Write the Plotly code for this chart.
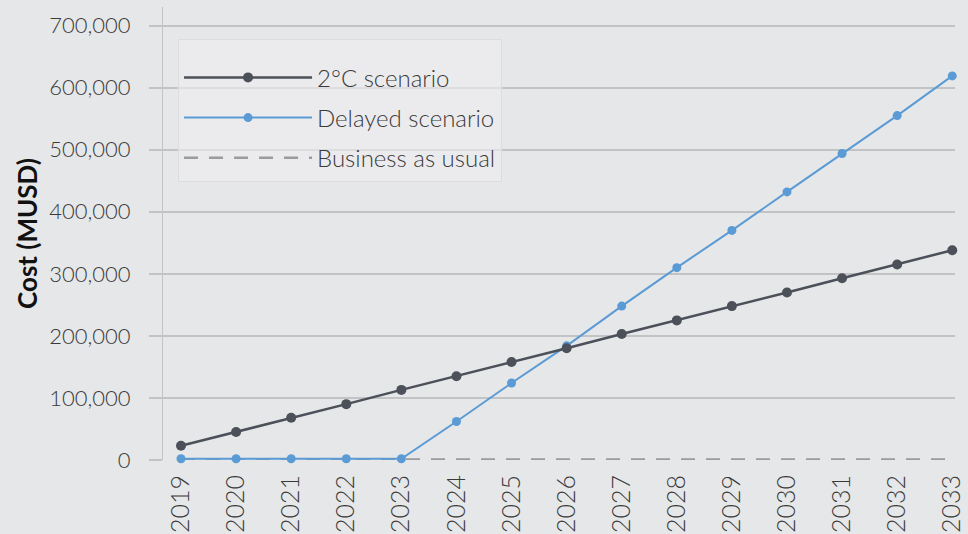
import plotly.graph_objects as go

years = list(range(2019, 2034))
year_labels = [str(y) for y in years]
two_degree = [23000, 45000, 68000, 90000, 113000, 135000, 158000, 180000,
              203000, 225000, 248000, 270000, 293000, 315000, 338000]
delayed = [2000, 2000, 2000, 2000, 2000, 62000, 124000, 184000,
           248000, 310000, 370000, 432000, 494000, 555000, 619000]
business_as_usual = [1000] * 15
y_ticks = [0, 100000, 200000, 300000, 400000, 500000, 600000, 700000]
y_tick_labels = ["0", "100,000", "200,000", "300,000", "400,000", "500,000", "600,000", "700,000"]

FONT = "Lato"
GRID = "#c2c3c5"
fig = go.Figure()

fig.add_trace(go.Scatter(
    x=years, y=business_as_usual, name="Business as usual", mode="lines",
    line=dict(color="#9a9b9d", width=2.5, dash="14px,11px"), legendrank=3,
    legendgroup="c", cliponaxis=False))
fig.add_trace(go.Scatter(
    x=years, y=delayed, name="Delayed scenario", mode="lines+markers",
    line=dict(color="#5b9bd5", width=2), marker=dict(color="#5b9bd5", size=9),
    legendrank=2, legendgroup="b", cliponaxis=False))
fig.add_trace(go.Scatter(
    x=years, y=two_degree, name="2°C scenario", mode="lines+markers",
    line=dict(color="#4b5059", width=2.5), marker=dict(color="#4b5059", size=10),
    legendrank=1, legendgroup="a", cliponaxis=False))

fig.update_layout(
    width=968, height=534,
    margin=dict(l=163, r=13, t=7, b=74),
    paper_bgcolor="#e6e7e9", plot_bgcolor="#e6e7e9",
    font=dict(family=FONT, color="#3a3a3a", size=20),
    showlegend=True,
    legend=dict(
        x=0.019, y=0.93, xanchor="left", yanchor="top",
        bgcolor="rgba(238,239,241,0.6)", bordercolor="#dcdddf", borderwidth=1,
        font=dict(family=FONT, size=24, color="#3a3a3a", weight=300),
        itemwidth=128, tracegroupgap=6,
        title=dict(text=" ", font=dict(size=12)),
    ),
    xaxis=dict(
        range=[2018.673, 2033.05], tickmode="array", tickvals=years,
        ticktext=year_labels, tickangle=-90, showgrid=False, zeroline=False,
        showline=False, ticks="", automargin=False, ticklabelstandoff=9,
        tickfont=dict(family=FONT, size=25, color="#3a3a3a", weight=300),
    ),
    yaxis=dict(
        range=[0, 730000], tickmode="array", tickvals=y_ticks, ticktext=y_tick_labels,
        showgrid=True, gridcolor=GRID, gridwidth=2, zeroline=False,
        showline=True, linecolor=GRID, linewidth=1, automargin=False,
        ticks="outside", ticklen=13, tickcolor=GRID, tickwidth=2,
        ticklabelstandoff=14,
        tickfont=dict(family=FONT, size=22, color="#3a3a3a", weight=300),
        title=dict(text="<b>Cost (MUSD)</b>", font=dict(family=FONT, size=26, color="#111111"), standoff=4),
    ),
)

fig.write_html("out.html", config={"displayModeBar": False},
               post_script="document.body.style.margin='0';document.body.style.overflow='hidden';")
